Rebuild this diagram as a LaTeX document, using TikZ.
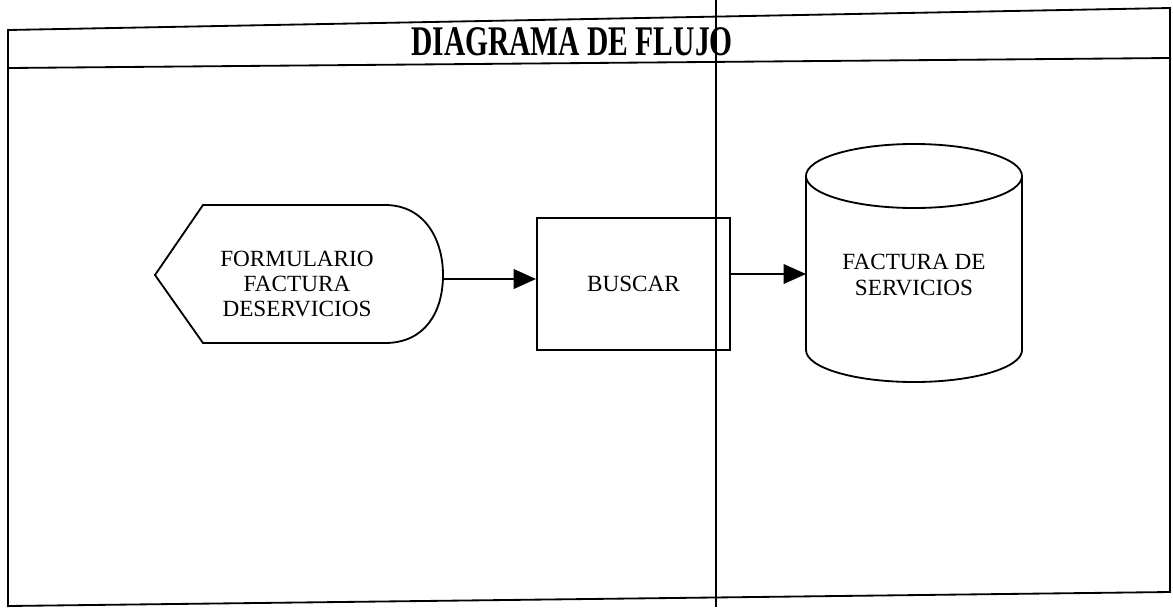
\documentclass[tikz,border=0pt]{standalone}
\usepackage{fontspec}
\setmainfont{Liberation Serif}
\newfontfamily\titlefont{Liberation Serif Bold}
\usetikzlibrary{arrows.meta}
\begin{document}
\begin{tikzpicture}[x=0.025cm, y=-0.025cm, line width=1.3pt,
  txt/.style={align=center, font=\fontsize{16.5}{18}\selectfont},
  proc/.style={draw, txt, minimum width=4.825cm, minimum height=3.3cm},
  arr/.style={-{Triangle[length=16pt, width=14pt]}}]
  \useasboundingbox (0,0) rectangle (1173,607);
  % frame and title bar
  \draw (8,607) -- (8,30) -- (1170,8) -- (1170,592) -- (8,606);
  \draw (8,68) -- (1170,58);
  \node[font=\fontsize{30}{32}\selectfont\titlefont, xscale=0.7] (title) at (572,42) {DIAGRAMA DE FLUJO};
  % lane divider
  \draw[line width=1.8pt] (716,0) -- (716,607);
  % input form
  \coordinate (inpE) at (443,279);
  \draw (155,275) -- (203,205) -- (385,205)
    .. controls (425,205) and (443,240) .. (443,275)
    .. controls (443,312) and (425,343) .. (385,343) -- (203,343) -- cycle;
  \node[txt] (inp) at (297,284) {FORMULARIO\\FACTURA\\DESERVICIOS};
  % process
  \node[proc] (buscar) at (633.5,284) {BUSCAR};
  % storage
  \coordinate (facW) at (806,274);
  \draw (806,176) -- (806,350) arc[start angle=180, end angle=360, x radius=2.7cm, y radius=0.8cm] -- (1022,176);
  \draw (914,176) ellipse [x radius=2.7cm, y radius=0.8cm];
  \node[txt] (factura) at (914,275) {FACTURA DE\\SERVICIOS};
  \draw[arr] (inpE) -- (inpE -| buscar.west);
  \draw[arr] (facW -| buscar.east) -- (facW);
\end{tikzpicture}
\end{document}
